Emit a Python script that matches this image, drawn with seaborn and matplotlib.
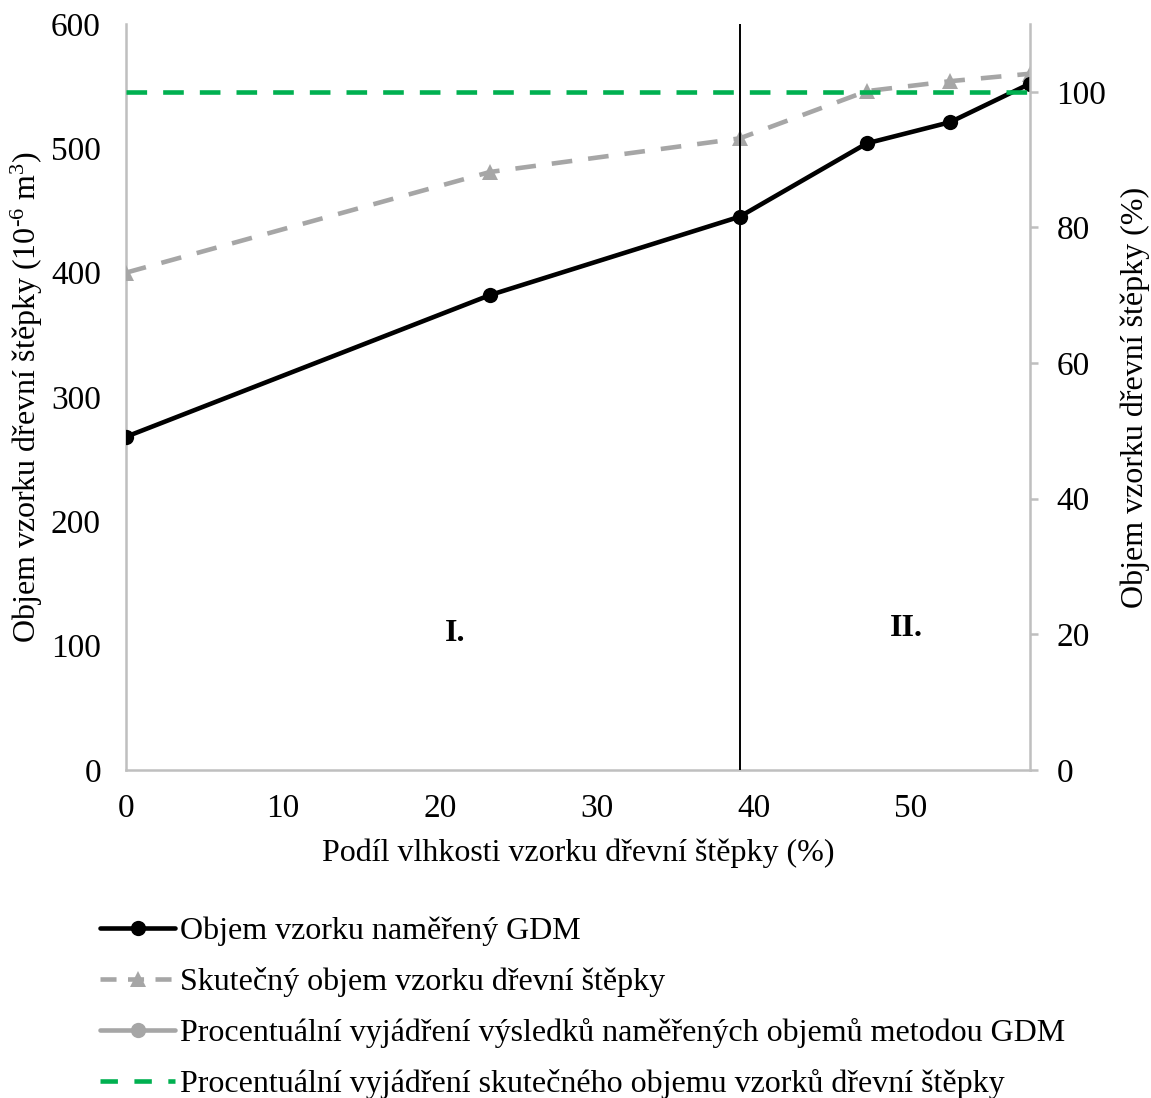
import matplotlib
matplotlib.use("Agg")
import matplotlib.pyplot as plt
from matplotlib.lines import Line2D
import seaborn as sns
import pandas as pd

# Moisture share of the wood chip sample (%)
moisture = [0, 23.2, 39.1, 47.2, 52.5, 57.6]
# Sample volume measured by GDM (10^-6 m^3)
volume_gdm = [268, 382, 445, 504, 521, 552]
# Actual sample volume (10^-6 m^3)
volume_real = [400, 481, 508, 546, 554, 560]
# Percentage expression of actual volume (%)
percent_real = [100, 100, 100, 100, 100, 100]

boundary_x = 39.1
region_labels = ["I.", "II."]
region_x = [21.0, 49.7]
region_y = [110, 114]

sns.set_style("white")
plt.rcParams["font.family"] = ["Liberation Serif", "DejaVu Serif"]
plt.rcParams["mathtext.fontset"] = "custom"
plt.rcParams["mathtext.rm"] = "Liberation Serif"
plt.rcParams["mathtext.it"] = "Liberation Serif:italic"
for key in ("text.color", "axes.labelcolor", "xtick.color", "ytick.color"):
    plt.rcParams[key] = "black"

TICK_FS = 24
LABEL_FS = 23
BLACK = "#000000"
GRAY = "#A6A6A6"
GREEN = "#00B050"
SPINE = "#BFBFBF"
LW = 3.3

df = pd.DataFrame({
    "moisture": moisture,
    "gdm": volume_gdm,
    "real": volume_real,
    "pct": percent_real,
})

fig = plt.figure(figsize=(11.51, 10.98), dpi=100)
ax = fig.add_axes([126 / 1151, 1 - 770 / 1098, (1030 - 126) / 1151, (770 - 24) / 1098])
ax2 = ax.twinx()

sns.lineplot(data=df, x="moisture", y="real", ax=ax, color=GRAY, lw=LW,
             marker="^", markersize=12, markeredgewidth=0,
             linestyle=(0, (4.5, 3.5)), zorder=3)
sns.lineplot(data=df, x="moisture", y="gdm", ax=ax, color=BLACK, lw=LW,
             marker="o", markersize=11, markeredgewidth=0, zorder=4)
sns.lineplot(data=df, x="moisture", y="pct", ax=ax2, color=GREEN, lw=LW,
             linestyle=(0, (4.5, 3.5)), zorder=3)

ax2.axvline(boundary_x, color=BLACK, lw=1.4, zorder=5)

ax.set_xlim(0, moisture[-1])
ax.set_ylim(0, 600)
ax2.set_ylim(0, 110)
ax.set_xticks(range(0, 51, 10))
ax.set_yticks(range(0, 601, 100))
ax2.set_yticks(range(0, 101, 20))

for a in (ax, ax2):
    for s in a.spines.values():
        s.set_color(SPINE)
        s.set_linewidth(1.8)
    a.spines["top"].set_visible(False)
    a.grid(False)
ax2.spines["left"].set_visible(False)
ax2.spines["bottom"].set_visible(False)
ax.spines["right"].set_visible(False)

ax.tick_params(axis="x", length=0, pad=17, labelsize=TICK_FS)
ax.tick_params(axis="y", length=0, pad=18, labelsize=TICK_FS)
ax2.tick_params(axis="y", length=6, width=1.8, color=SPINE, pad=13, labelsize=TICK_FS,
                direction="out")

ax.set_xlabel("Podíl vlhkosti vzorku dřevní štěpky (%)", fontsize=LABEL_FS, labelpad=10)
ax.set_ylabel(r"Objem vzorku dřevní štěpky (10$^{\text{-6}}$ m$^{3}$)", fontsize=LABEL_FS)
ax.yaxis.set_label_coords(-0.09, 0.5)
ax2.set_ylabel("Objem vzorku dřevní štěpky (%)", fontsize=LABEL_FS, labelpad=10)

for lab, xv, yv in zip(region_labels, region_x, region_y):
    ax.text(xv, yv, lab, fontsize=LABEL_FS, fontweight="bold", ha="center", va="center")

handles = [
    Line2D([], [], color=BLACK, lw=LW, marker="o", markersize=11, markeredgewidth=0),
    Line2D([], [], color=GRAY, lw=LW, marker="^", markersize=12, markeredgewidth=0,
           linestyle=(0, (3.5, 2.5))),
    Line2D([], [], color=GRAY, lw=LW, marker="o", markersize=11, markeredgewidth=0),
    Line2D([], [], color=GREEN, lw=LW, linestyle=(0, (3.8, 3.6))),
]
labels = [
    "Objem vzorku naměřený GDM",
    "Skutečný objem vzorku dřevní štěpky",
    "Procentuální vyjádření výsledků naměřených objemů metodou GDM",
    "Procentuální vyjádření skutečného objemu vzorků dřevní štěpky",
]
fig.legend(handles, labels, loc="upper left", bbox_to_anchor=(100 / 1151, 1 - 917 / 1098),
           frameon=False, fontsize=LABEL_FS, handlelength=2.35, handletextpad=0.15,
           labelspacing=0.65, borderaxespad=0, borderpad=0)

fig.savefig("out.png", dpi=100)
